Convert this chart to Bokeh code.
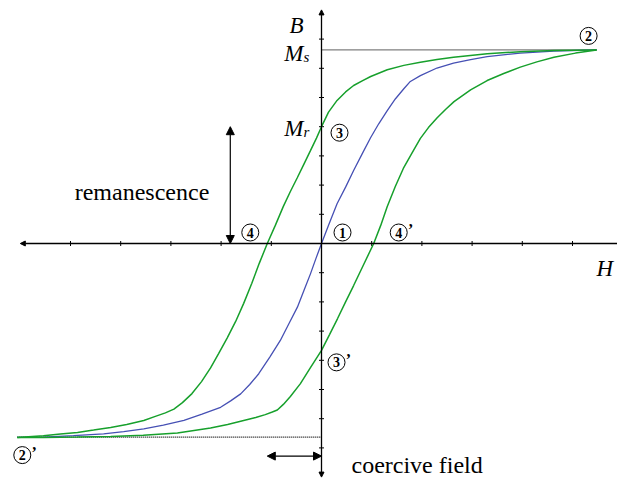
from bokeh.plotting import figure
from bokeh.models import Range1d, Arrow, NormalHead
from bokeh.core.properties import value
from bokeh.embed import file_html
from bokeh.resources import INLINE

# Magnetic hysteresis loop; H and B are given in axis-tick units.

# initial magnetisation curve (blue)
virgin_h = [-6.06, -5.53, -4.94, -4.34, -3.94, -3.54, -3.15, -2.74, -2.38, -2.01,
            -1.81, -1.61, -1.43, -1.25, -1.03, -0.82, -0.65, -0.48, -0.35, -0.22,
            -0.11, 0.00, 0.15, 0.31, 0.48, 0.64, 0.81, 0.98, 1.14, 1.31, 1.47,
            1.64, 1.77, 1.97, 2.30, 2.63, 2.97, 3.30, 3.96, 4.63, 5.48]
virgin_b = [-6.64, -6.63, -6.58, -6.52, -6.44, -6.35, -6.22, -6.06, -5.84, -5.61,
            -5.39, -5.15, -4.83, -4.46, -3.89, -3.32, -2.75, -2.18, -1.61, -1.04,
            -0.51, 0.00, 0.67, 1.36, 1.93, 2.50, 3.07, 3.63, 4.10, 4.55, 4.95,
            5.30, 5.55, 5.75, 6.01, 6.18, 6.30, 6.40, 6.52, 6.59, 6.63]

# descending branch (from +saturation to -saturation)
desc_h = [5.48, 4.63, 3.96, 3.30, 2.63, 2.30, 1.97, 1.64, 1.31, 0.98, 0.82, 0.64,
          0.48, 0.31, 0.14, 0.00, -0.10, -0.22, -0.35, -0.48, -0.62, -0.76, -0.92,
          -1.08, -1.24, -1.39, -1.55, -1.71, -1.88, -2.05, -2.21, -2.39, -2.58,
          -2.77, -2.94, -3.11, -3.31, -3.54, -3.88, -4.20, -4.54, -4.86, -5.20,
          -5.54, -6.06]
desc_b = [6.63, 6.61, 6.57, 6.50, 6.38, 6.30, 6.21, 6.10, 5.95, 5.72, 5.58, 5.41,
          5.19, 4.90, 4.50, 4.00, 3.61, 3.18, 2.72, 2.26, 1.78, 1.27, 0.62,
          0.00, -0.68, -1.37, -2.05, -2.67, -3.24, -3.77, -4.26, -4.73, -5.14,
          -5.45, -5.67, -5.80, -5.92, -6.06, -6.20, -6.30, -6.39, -6.47, -6.52,
          -6.58, -6.64]

# ascending branch (from -saturation to +saturation)
asc_h = [-6.06, -5.54, -4.86, -4.20, -3.55, -2.87, -2.21, -1.87, -1.55, -1.31,
         -1.12, -0.98, -0.88, -0.76, -0.62, -0.42, -0.22, 0.00, 0.16, 0.32, 0.48,
         0.64, 0.84, 1.04, 1.18, 1.31, 1.47, 1.63, 1.81, 1.97, 2.13, 2.30, 2.47,
         2.64, 2.97, 3.30, 3.63, 3.96, 4.29, 4.63, 5.06, 5.48]
asc_b = [-6.64, -6.64, -6.63, -6.61, -6.57, -6.49, -6.32, -6.20, -6.06, -5.96,
         -5.86, -5.77, -5.70, -5.51, -5.24, -4.80, -4.25, -3.66, -3.12, -2.57, -2.00,
         -1.44, -0.72, 0.00, 0.62, 1.27, 1.95, 2.57, 3.12, 3.60, 3.97, 4.30, 4.59,
         4.86, 5.26, 5.58, 5.82, 6.04, 6.22, 6.38, 6.52, 6.63]

B_SAT = 6.63         # M_s
B_REM = 4.00         # M_r
B_REM_NEG = -3.66    # ascending branch at H = 0
H_COERC_NEG = -1.08  # descending branch crosses B = 0
H_COERC_POS = 1.04   # ascending branch crosses B = 0
H_SAT = 5.48
H_MIN = -6.06

h_ticks = [-5, -4, -3, -2, -1, 1, 2, 3, 4, 5]
b_ticks = [-7, -6, -5, -4, -3, -2, -1, 1, 2, 3, 4, 5, 6, 7]
H_AXIS = (-6.0, 6.2)
B_AXIS = (-8.0, 8.0)

# canvas geometry
W, HT = 617, 481
X0, Y0 = 321, 243      # origin in screen pixels
SX, SY = 50.2, 29.2    # pixels per tick unit


def at(h, b, dx=0.0, dy=0.0):
    """Data point shifted by dx, dy screen pixels (dy positive = down)."""
    return h + dx / SX, b - dy / SY


p = figure(width=W, height=HT,
           x_range=Range1d(-X0 / SX, (W - X0) / SX),
           y_range=Range1d(-(HT - Y0) / SY, Y0 / SY),
           x_axis_type=None, y_axis_type=None,
           toolbar_location=None, output_backend="svg", min_border=0)
p.outline_line_color = None
p.background_fill_color = "white"
p.border_fill_color = "white"

BLACK = "black"
GREEN = "#17a02c"
BLUE = "#4650b4"
SERIF = value("'Liberation Serif', serif")


def head(size):
    return NormalHead(size=size, fill_color=BLACK, line_color=BLACK, line_width=1)


# coordinate axes
p.add_layout(Arrow(start=head(5), end=head(5), x_start=H_AXIS[0], y_start=0,
                   x_end=H_AXIS[1], y_end=0, line_color=BLACK, line_width=1.3))
p.add_layout(Arrow(start=head(5), end=head(5), x_start=0, y_start=B_AXIS[0],
                   x_end=0, y_end=B_AXIS[1], line_color=BLACK, line_width=1.3))
p.segment(x0=h_ticks, y0=[-2.5 / SY] * len(h_ticks), x1=h_ticks,
          y1=[2.5 / SY] * len(h_ticks), line_color=BLACK, line_width=1)
p.segment(x0=[-2.5 / SX] * len(b_ticks), y0=b_ticks, x1=[2.5 / SX] * len(b_ticks),
          y1=b_ticks, line_color=BLACK, line_width=1)

# saturation guides
p.line([0, H_SAT], [B_SAT, B_SAT], line_color=BLACK, line_width=1.2, line_dash="1 1")
p.line([H_MIN, 0], [-B_SAT, -B_SAT], line_color=BLACK, line_width=1.2, line_dash="1 1")

# curves
p.line(virgin_h, virgin_b, line_color=BLUE, line_width=1.3)
p.line(desc_h, desc_b, line_color=GREEN, line_width=1.5)
p.line(asc_h, asc_b, line_color=GREEN, line_width=1.5)

# circled point markers
marks = [
    ("1", at(0, 0, 21, -11), False),
    ("2", at(H_SAT, B_SAT, -8, -14), False),
    ("2", at(H_MIN, -B_SAT, 5, 18), True),
    ("3", at(0, B_REM, 18, 6), False),
    ("3", at(0, B_REM_NEG, 15, 12), True),
    ("4", at(H_COERC_NEG, 0, -17, -11), False),
    ("4", at(H_COERC_POS, 0, 25, -11), True),
]
cx = [m[1][0] for m in marks]
cy = [m[1][1] for m in marks]
p.scatter(cx, cy, marker="circle", size=17, fill_color=None, line_color=BLACK,
          line_width=1)
p.text(cx, cy, text=[m[0] for m in marks], text_font=SERIF, text_font_style="bold",
       text_font_size="14px", text_align="center", text_baseline="middle",
       text_color=BLACK)
primes = [at(x, y, 12, -3) for (_, _, pr), x, y in zip(marks, cx, cy) if pr]
p.text([q[0] for q in primes], [q[1] for q in primes], text=["\u2019"] * len(primes),
       text_font=SERIF, text_font_style="bold", text_font_size="16px",
       text_align="center", text_baseline="middle", text_color=BLACK)


# axis and level labels (math italic)
def math(h, b, s, size="23px", align="center"):
    p.text([h], [b], text=[s], text_font=SERIF, text_font_style="italic",
           text_font_size=size, text_align=align, text_baseline="alphabetic",
           text_color=BLACK)


math(*at(0, B_AXIS[1], -25, 16), "B")
math(*at(H_AXIS[1], 0, -28, 25), "H")
math(*at(0, B_SAT, -18, 4), "M", align="right")
math(*at(0, B_SAT, -18, 7), "s", size="15px", align="left")
math(*at(0, B_REM, -18, 2), "M", align="right")
math(*at(0, B_REM, -18, 5), "r", size="15px", align="left")

# remanence arrow and caption
rem_x, _ = at(H_COERC_NEG, 0, -37, 0)
p.add_layout(Arrow(start=head(8), end=head(8), x_start=rem_x, y_start=0,
                   x_end=rem_x, y_end=B_REM, line_color=BLACK, line_width=1.2))
tx, ty = at(rem_x, B_REM / 2, -21, 7)
p.text([tx], [ty], text=["remanescence"], text_font=SERIF, text_font_style="normal",
       text_font_size="24px", text_align="right", text_baseline="alphabetic",
       text_color=BLACK)

# coercive field arrow and caption
_, coer_y = at(0, -B_SAT, 0, 19)
p.add_layout(Arrow(start=head(8), end=head(8), x_start=H_COERC_NEG, y_start=coer_y,
                   x_end=0, y_end=coer_y, line_color=BLACK, line_width=1.2))
tx, ty = at(0, coer_y, 30, 9)
p.text([tx], [ty], text=["coercive field"], text_font=SERIF, text_font_style="normal",
       text_font_size="24px", text_align="left", text_baseline="alphabetic",
       text_color=BLACK)

open("out.html", "w").write(file_html(p, INLINE))
